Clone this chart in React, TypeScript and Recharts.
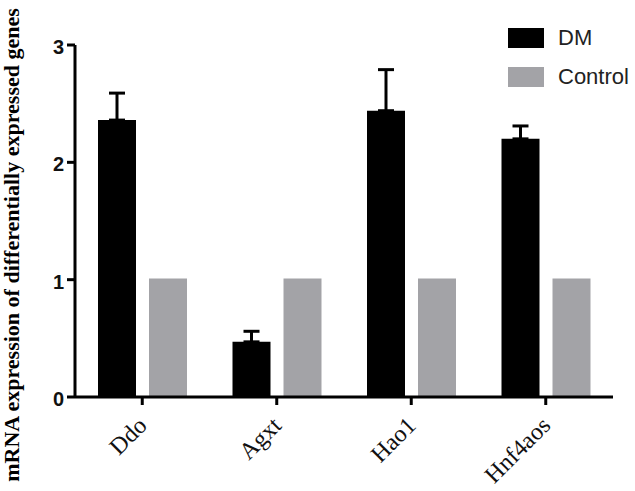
import { Bar, BarChart, ErrorBar, Legend, XAxis, YAxis } from "recharts";

const genes = ["Ddo", "Agxt", "Hao1", "Hnf4aos"];
const dmValues = [2.36, 0.47, 2.44, 2.2];
const dmErrors = [0.23, 0.09, 0.35, 0.11];
const controlValues = [1.01, 1.01, 1.01, 1.01];
const yTicks = [0, 1, 2, 3];

const DM_COLOR = "#000000";
const CONTROL_COLOR = "#a3a3a7";
const SERIF = "'Liberation Serif', 'Times New Roman', serif";

const data = genes.map((gene, i) => ({
  gene,
  dm: dmValues[i],
  dmErr: [0, dmErrors[i]],
  control: controlValues[i],
}));

// rotated serif gene names under each group
function GeneTick({ x, y, payload }: any) {
  return (
    <g transform={`translate(${x},${y})`}>
      <text
        x={6}
        y={20}
        textAnchor="end"
        transform="rotate(-45 6 20)"
        fontFamily={SERIF}
        fontSize={24}
        fill="#111"
      >
        {payload.value}
      </text>
    </g>
  );
}

function LegendBox() {
  const items = [
    { name: "DM", color: DM_COLOR },
    { name: "Control", color: CONTROL_COLOR },
  ];
  return (
    <div style={{ display: "flex", flexDirection: "column", gap: 19 }}>
      {items.map((item) => (
        <div key={item.name} style={{ display: "flex", alignItems: "center", height: 20 }}>
          <span style={{ width: 36, height: 20, background: item.color, display: "inline-block" }} />
          <span
            style={{
              marginLeft: 14,
              fontFamily: "'Liberation Sans', Arial, sans-serif",
              fontSize: 22,
              color: "#222",
              lineHeight: "20px",
            }}
          >
            {item.name}
          </span>
        </div>
      ))}
    </div>
  );
}

export default function App() {
  return (
    <div style={{ position: "absolute", left: 0, top: 0, width: 635, height: 491, background: "#fff" }}>
      <BarChart
        width={635}
        height={491}
        data={data}
        margin={{ top: 45, right: 22, bottom: 10, left: 15 }}
        barSize={38}
        barGap={13}
      >
        <XAxis
          dataKey="gene"
          height={84}
          tick={<GeneTick />}
          tickSize={8}
          tickMargin={2}
          axisLine={{ stroke: "#000", strokeWidth: 3 }}
          tickLine={{ stroke: "#000", strokeWidth: 3 }}
          interval={0}
        />
        <YAxis
          width={60}
          domain={[0, 3]}
          ticks={yTicks}
          interval={0}
          tickSize={8}
          tickMargin={3}
          axisLine={{ stroke: "#000", strokeWidth: 3 }}
          tickLine={{ stroke: "#000", strokeWidth: 3 }}
          tick={{
            fontFamily: "'Liberation Sans', Arial, sans-serif",
            fontSize: 20,
            fontWeight: "bold",
            fill: "#111",
            dy: 2,
          }}
          label={{
            content: () => (
              <text
                x={19}
                y={245}
                textAnchor="middle"
                transform="rotate(-90 19 245)"
                fontFamily={SERIF}
                fontSize={22}
                fontWeight="bold"
                fill="#000"
              >
                mRNA expression of differentially expressed genes
              </text>
            ),
          }}
        />
        <Legend
          layout="horizontal"
          verticalAlign="middle"
          align="center"
          content={<LegendBox />}
          wrapperStyle={{ top: 28, left: 508, width: 130 }}
        />
        <Bar dataKey="dm" name="DM" fill={DM_COLOR} isAnimationActive={false}>
          <ErrorBar dataKey="dmErr" width={8} stroke="#000" strokeWidth={3} direction="y" />
        </Bar>
        <Bar dataKey="control" name="Control" fill={CONTROL_COLOR} isAnimationActive={false} />
      </BarChart>
    </div>
  );
}
